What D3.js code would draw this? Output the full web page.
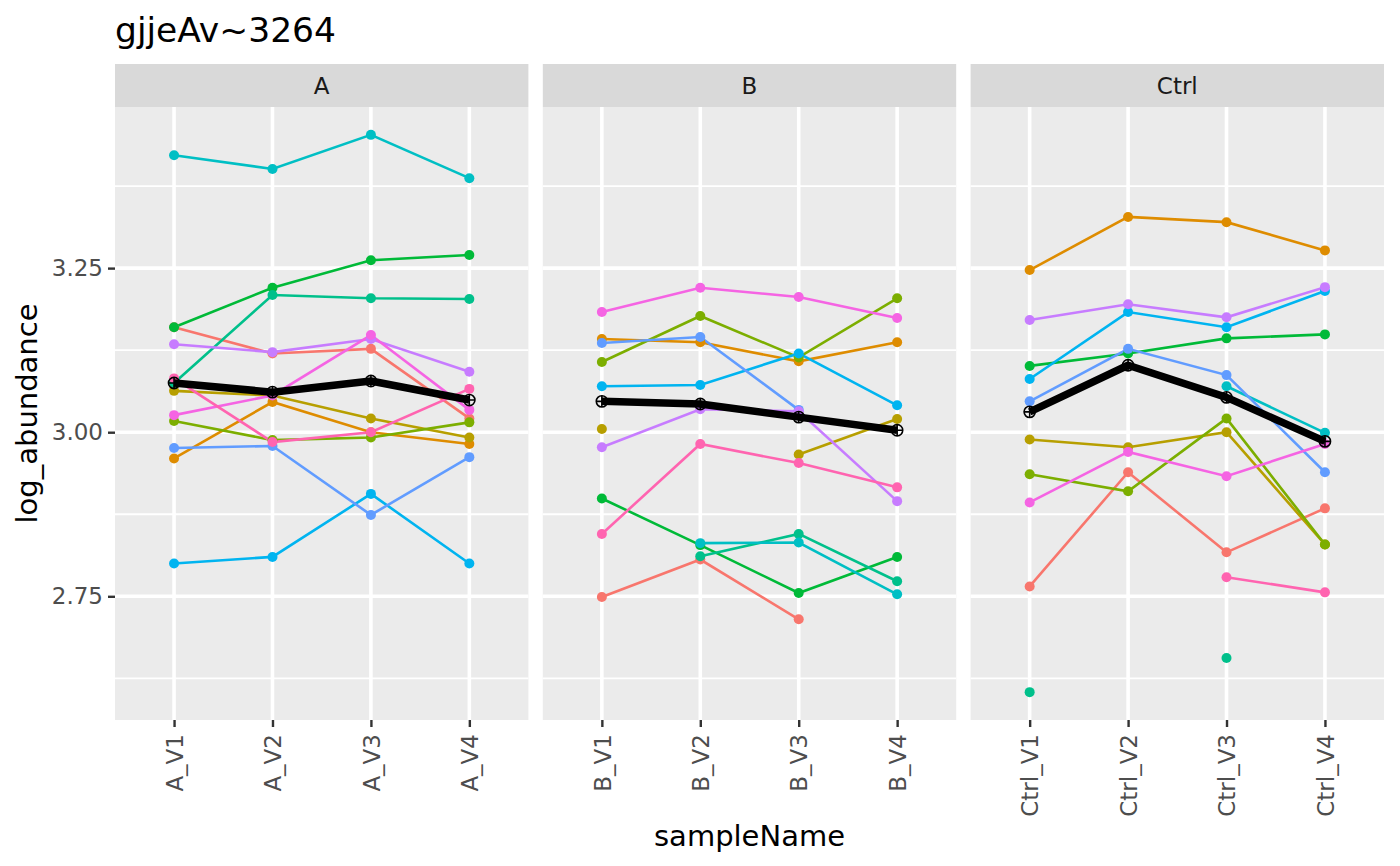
<!DOCTYPE html>
<html>
<head>
<meta charset="utf-8">
<script src="https://cdn.jsdelivr.net/npm/d3@7"></script>
<style>
  body { margin: 0; background: #fff; }
  text { font-family: "DejaVu Sans", sans-serif; }
</style>
</head>
<body>
<div id="chart"></div>
<script>
// data
const facets = ["A", "B", "Ctrl"];
const visits = ["V1", "V2", "V3", "V4"];
const yTicks = [2.75, 3.00, 3.25];
const yMinor = [2.625, 2.875, 3.125, 3.375];
const chartTitle = "gjjeAv~3264";

// one colour per subject (ggplot hue palette, 12 levels)
const subjectColors = ["#F8766D", "#DE8C00", "#B79F00", "#7CAE00", "#00BA38", "#00C08B",
                       "#00BFC4", "#00B4F0", "#619CFF", "#C77CFF", "#F564E3", "#FF64B0"];

// rows follow subjectColors, columns follow visits; null = missing
const valuesA = [
  [3.160, 3.120, 3.127, 3.021],
  [2.960, 3.046, 3.000, 2.982],
  [3.063, 3.056, 3.021, 2.992],
  [3.017, 2.988, 2.992, 3.015],
  [3.160, 3.220, 3.262, 3.270],
  [3.075, 3.209, 3.204, 3.203],
  [3.422, 3.401, 3.453, 3.387],
  [2.800, 2.810, 2.906, 2.800],
  [2.976, 2.979, 2.874, 2.962],
  [3.134, 3.122, 3.142, 3.092],
  [3.026, 3.056, 3.148, 3.034],
  [3.082, 2.985, 3.000, 3.066]
];
const valuesB = [
  [2.749, 2.806, 2.715, null],
  [3.142, 3.137, 3.108, 3.137],
  [3.005, null, 2.966, 3.020],
  [3.107, 3.177, 3.114, 3.204],
  [2.899, 2.828, 2.755, 2.810],
  [null, 2.811, 2.845, 2.773],
  [null, 2.831, 2.832, 2.753],
  [3.070, 3.072, 3.120, 3.041],
  [3.136, 3.145, 3.034, null],
  [2.977, 3.035, 3.032, 2.895],
  [3.183, 3.220, 3.206, 3.174],
  [2.845, 2.982, 2.953, 2.916]
];
const valuesCtrl = [
  [2.765, 2.939, 2.817, 2.884],
  [3.247, 3.328, 3.320, 3.277],
  [2.989, 2.977, 3.000, 2.829],
  [2.936, 2.910, 3.021, 2.829],
  [3.101, 3.120, 3.143, 3.149],
  [2.604, null, 2.656, null],
  [null, null, 3.070, 2.999],
  [3.081, 3.183, 3.160, 3.215],
  [3.047, 3.127, 3.087, 2.939],
  [3.171, 3.195, 3.175, 3.221],
  [2.893, 2.970, 2.933, 2.982],
  [null, null, 2.779, 2.756]
];
const meanA = [3.075, 3.061, 3.078, 3.049];
const meanB = [3.047, 3.043, 3.023, 3.003];
const meanCtrl = [3.031, 3.102, 3.053, 2.986];

const facetValues = [valuesA, valuesB, valuesCtrl];
const facetMeans = [meanA, meanB, meanCtrl];

//layout
const W = 1400, H = 866;
const plotLeft = 115, plotRight = 1384, plotTop = 107, plotBottom = 720;
const gap = 14.4;
const panelW = (plotRight - plotLeft - 2 * gap) / 3;
const stripH = 43;

const svg = d3.select("#chart").append("svg")
    .attr("width", W)
    .attr("height", H);

svg.append("rect").attr("width", W).attr("height", H).attr("fill", "#fff");

var allVals = facetValues.flat(2).filter(v => v != null);
var lo = d3.min(allVals), hi = d3.max(allVals), pad = (hi - lo) * 0.05;
const y = d3.scaleLinear().domain([lo - pad, hi + pad]).range([plotBottom, plotTop]);

const line = d3.line()
    .defined(d => d.v != null)
    .x(d => d.x)
    .y(d => y(d.v));

facets.forEach(function(facet, i) {
    var x0 = plotLeft + i * (panelW + gap);
    var x = d3.scalePoint().domain(visits).range([x0, x0 + panelW]).padding(0.6);
    var g = svg.append("g");

    //panel background + grid
    g.append("rect").attr("x", x0).attr("y", plotTop).attr("width", panelW).attr("height", plotBottom - plotTop).attr("fill", "#EBEBEB");
    g.selectAll(".minor").data(yMinor).enter().append("line")
        .attr("x1", x0).attr("x2", x0 + panelW)
        .attr("y1", d => y(d)).attr("y2", d => y(d))
        .attr("stroke", "#fff").attr("stroke-width", 1.8);
    g.selectAll(".major").data(yTicks).enter().append("line")
        .attr("x1", x0).attr("x2", x0 + panelW)
        .attr("y1", d => y(d)).attr("y2", d => y(d))
        .attr("stroke", "#fff").attr("stroke-width", 3.6);
    g.selectAll(".vgrid").data(visits).enter().append("line")
        .attr("x1", d => x(d)).attr("x2", d => x(d))
        .attr("y1", plotTop).attr("y2", plotBottom)
        .attr("stroke", "#fff").attr("stroke-width", 3.6);

    //strip
    g.append("rect").attr("x", x0).attr("y", plotTop - stripH).attr("width", panelW).attr("height", stripH).attr("fill", "#D9D9D9");
    g.append("text").attr("x", x0 + panelW / 2).attr("y", plotTop - stripH / 2)
        .attr("dy", "0.35em").attr("text-anchor", "middle")
        .style("font-size", "23px").style("fill", "#1A1A1A")
        .text(facet);

    //subject lines and points
    var series = facetValues[i].map((row, s) => ({
        color: subjectColors[s],
        pts: row.map((v, k) => ({x: x(visits[k]), v: v}))
    }));
    g.selectAll(".subj").data(series).enter().append("path")
        .attr("d", d => line(d.pts))
        .attr("fill", "none")
        .attr("stroke", d => d.color)
        .attr("stroke-width", 2.6);
    series.forEach(function(s) {
        g.selectAll(null).data(s.pts.filter(p => p.v != null)).enter().append("circle")
            .attr("cx", p => p.x).attr("cy", p => y(p.v))
            .attr("r", 5)
            .attr("fill", s.color);
    });

    //mean line
    var meanPts = facetMeans[i].map((v, k) => ({x: x(visits[k]), v: v}));
    g.append("path")
        .attr("d", line(meanPts))
        .attr("fill", "none")
        .attr("stroke", "#000")
        .attr("stroke-width", 7.5)
        .attr("stroke-linejoin", "round");
    var mk = g.selectAll(".mean").data(meanPts).enter().append("g")
        .attr("transform", p => "translate(" + p.x + "," + y(p.v) + ")");
    mk.append("circle").attr("r", 5.6).attr("fill", "none").attr("stroke", "#000").attr("stroke-width", 1.6);
    mk.append("path").attr("d", "M-5.6,0H5.6M0,-5.6V5.6").attr("stroke", "#000").attr("stroke-width", 1.6);

    //x axis
    var xa = svg.append("g")
        .attr("transform", "translate(0," + plotBottom + ")")
        .call(d3.axisBottom(x).tickSize(7).tickFormat(v => facet + "_" + v));
    xa.select(".domain").remove();
    xa.selectAll(".tick line").attr("stroke", "#333").attr("stroke-width", 2.4);
    xa.selectAll(".tick text")
        .attr("x", -14).attr("y", 0).attr("dy", "0.36em")
        .attr("transform", "rotate(-90)")
        .style("text-anchor", "end")
        .style("font-size", "23px")
        .style("fill", "#4D4D4D")
        .style("font-family", "DejaVu Sans");
});

//y axis
var ya = svg.append("g")
    .attr("transform", "translate(" + plotLeft + ",0)")
    .call(d3.axisLeft(y).tickValues(yTicks).tickFormat(d3.format(".2f")).tickSize(7).tickPadding(5));
ya.select(".domain").remove();
ya.selectAll(".tick line").attr("stroke", "#333").attr("stroke-width", 2.4);
ya.selectAll(".tick text")
    .style("font-size", "23px")
    .style("fill", "#4D4D4D")
    .style("font-family", "DejaVu Sans");

//titles
svg.append("text")
    .attr("x", plotLeft).attr("y", 42)
    .style("font-size", "34.5px").style("fill", "#000")
    .text(chartTitle);

svg.append("text")
    .attr("x", (plotLeft + plotRight) / 2).attr("y", 846)
    .attr("text-anchor", "middle")
    .style("font-size", "29px").style("fill", "#000")
    .text("sampleName");

svg.append("text")
    .attr("transform", "translate(37," + (plotTop + plotBottom) / 2 + ") rotate(-90)")
    .attr("text-anchor", "middle")
    .style("font-size", "29px").style("fill", "#000")
    .text("log_abundance");
</script>
</body>
</html>
